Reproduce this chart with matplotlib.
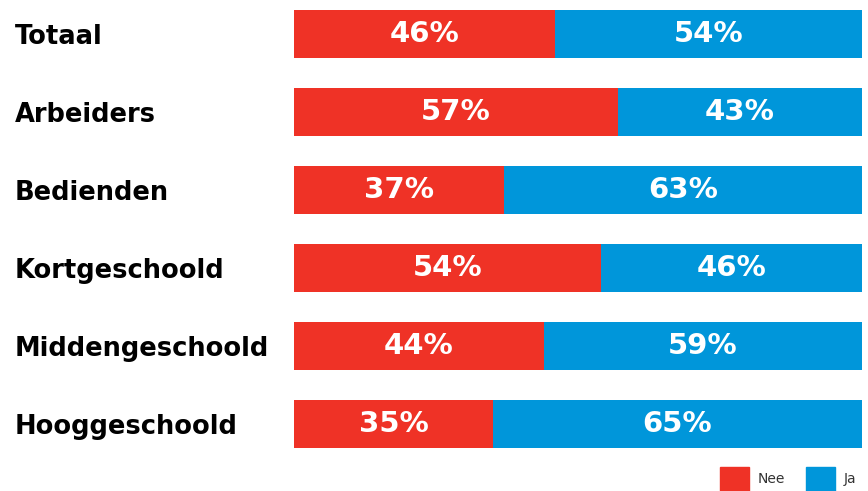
import matplotlib
matplotlib.use('Agg')
import matplotlib.pyplot as plt
from matplotlib.patches import Patch

categories = ['Totaal', 'Arbeiders', 'Bedienden', 'Kortgeschoold', 'Middengeschoold', 'Hooggeschoold']
nee = [46, 57, 37, 54, 44, 35]
ja = [54, 43, 63, 46, 59, 65]

red = '#EF3226'
blue = '#0096DA'

fig = plt.figure(figsize=(8.68, 4.91), dpi=100)
ax = fig.add_axes([294 / 868, 43 / 491, 568 / 868, 438 / 491])

ypos = list(range(len(categories)))
h = 48 / 78
ax.barh(ypos, nee, height=h, color=red)
ax.barh(ypos, ja, left=nee, height=h, color=blue)

for y, n, j in zip(ypos, nee, ja):
    ax.text(n / 2, y, f'{n}%', ha='center', va='center', color='white',
            fontsize=21, fontweight='bold', family='DejaVu Sans')
    right = min(n + j, 100)
    ax.text((n + right) / 2, y, f'{j}%', ha='center', va='center', color='white',
            fontsize=21, fontweight='bold', family='DejaVu Sans')

ax.set_xlim(0, 100)
ax.set_ylim(len(categories) - 1 + h / 2, -h / 2)
ax.set_xticks([])
ax.set_yticks(ypos)
ax.set_yticklabels(categories, fontsize=18.5, fontweight='bold', color='black')
ax.tick_params(axis='y', length=0, pad=279 * 0.72)
for lab in ax.get_yticklabels():
    lab.set_ha('left')
for s in ax.spines.values():
    s.set_visible(False)

handles = [Patch(color=red, label='Nee'), Patch(color=blue, label='Ja')]
fig.legend(handles=handles, loc='lower right', bbox_to_anchor=(856 / 868, 0.0),
           ncol=2, frameon=False, fontsize=10, handlelength=2.1, handleheight=2.3,
           handletextpad=0.6, columnspacing=1.5, borderpad=0, borderaxespad=0,
           labelcolor='#333333')

fig.savefig('out.png', dpi=100)
